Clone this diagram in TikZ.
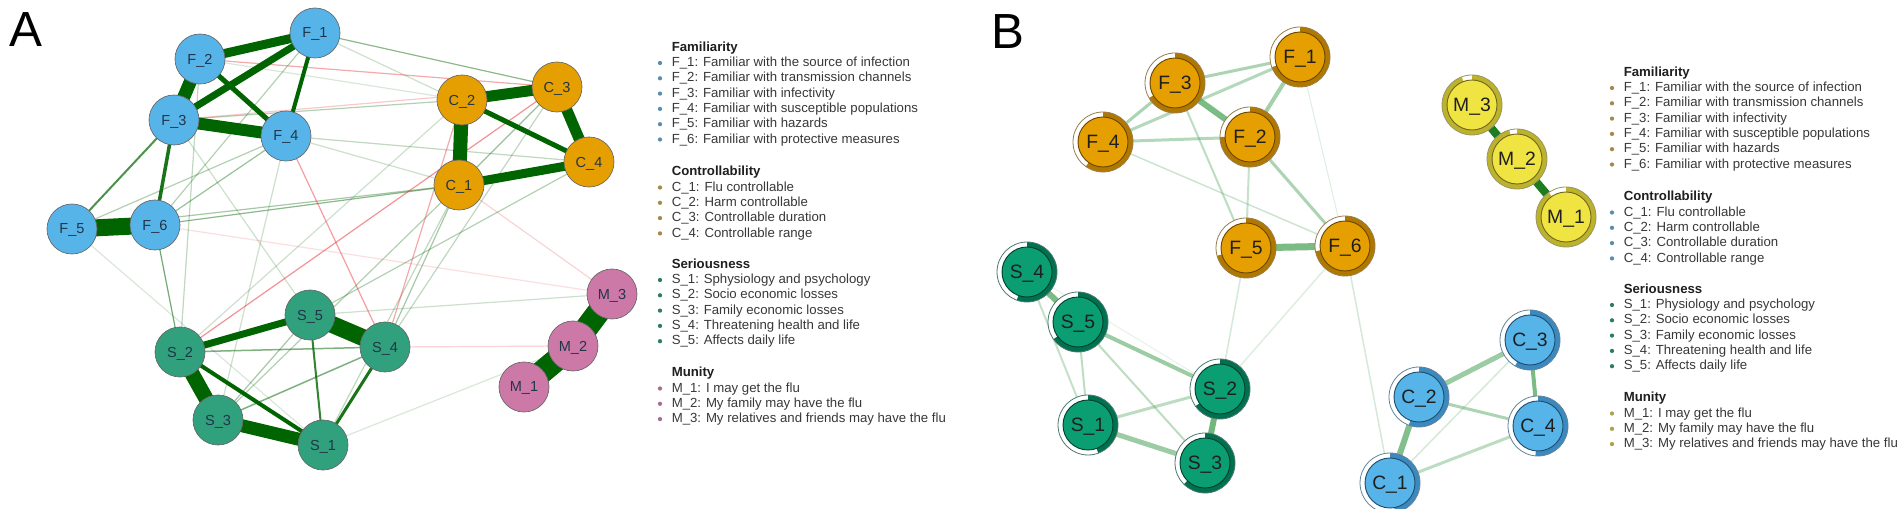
\documentclass[tikz,border=0pt]{standalone}
\usepackage{fontspec}
\setmainfont{Liberation Sans}
\pgfdeclarelayer{bgl}
\pgfdeclarelayer{edges}
\pgfsetlayers{bgl,edges,main}
\definecolor{aF}{HTML}{56B4E9}
\definecolor{aC}{HTML}{E69F00}
\definecolor{aS}{HTML}{31A07C}
\definecolor{aM}{HTML}{CC79A7}
\definecolor{aT}{HTML}{22354A}
\definecolor{eg}{HTML}{006400}
\definecolor{er}{HTML}{E8282E}
\definecolor{bF}{HTML}{E69F00}
\definecolor{bFr}{HTML}{B07800}
\definecolor{bFo}{HTML}{6B4700}
\definecolor{bS}{HTML}{0A9E72}
\definecolor{bSr}{HTML}{007050}
\definecolor{bSo}{HTML}{00402D}
\definecolor{bC}{HTML}{56B4E9}
\definecolor{bCr}{HTML}{3B89BE}
\definecolor{bCo}{HTML}{1F4E6E}
\definecolor{bM}{HTML}{F0E442}
\definecolor{bMr}{HTML}{BDB22C}
\definecolor{bMo}{HTML}{6E6820}
\definecolor{bE}{HTML}{5AAA66}
\definecolor{bEd}{HTML}{1E7D1E}
\definecolor{lbF}{HTML}{5A8DB0}
\definecolor{lbC}{HTML}{A8884A}
\definecolor{lbS}{HTML}{2E7C62}
\definecolor{lbMa}{HTML}{A5708F}
\definecolor{lbMb}{HTML}{A8A44C}
\newcommand{\bnd}[8]{%
  \node[bshape] (#1) at (#2,#3) {};
  \fill[white] (#1.center) circle[radius=22.5pt];
  \fill[#5] (#1.center) -- ++(90:22.5pt) arc[start angle=90, end angle=#7-360, radius=22.5pt] -- cycle;
  \draw[#6!70, line width=0.6pt] (#1.center) circle[radius=22.5pt];
  \filldraw[fill=#4, draw=#6, line width=0.7pt] (#1.center) circle[radius=18.75pt];
  \node[blabel] (#1l) at (#1.center) {#8};
}
\newcommand{\litem}[4]{%
  \fill[#3] (0,#2+1) circle[radius=1.6pt];
  \node[ltext] (#1) at (11.5,#2) {#4};
}
\newcommand{\lgd}[6]{%
  \node[ltext, lhead] (#1h1) at (11.5,0) {Familiarity};
  \litem{#1f1}{15}{#2}{F\_1: Familiar with the source of infection}
  \litem{#1f2}{30.3}{#2}{F\_2: Familiar with transmission channels}
  \litem{#1f3}{45.6}{#2}{F\_3: Familiar with infectivity}
  \litem{#1f4}{60.9}{#2}{F\_4: Familiar with susceptible populations}
  \litem{#1f5}{76.2}{#2}{F\_5: Familiar with hazards}
  \litem{#1f6}{91.5}{#2}{F\_6: Familiar with protective measures}
  \node[ltext, lhead] (#1h2) at (11.5,124) {Controllability};
  \litem{#1c1}{139.5}{#3}{C\_1: Flu controllable}
  \litem{#1c2}{154.8}{#3}{C\_2: Harm controllable}
  \litem{#1c3}{170.1}{#3}{C\_3: Controllable duration}
  \litem{#1c4}{185.4}{#3}{C\_4: Controllable range}
  \node[ltext, lhead] (#1h3) at (11.5,216.5) {Seriousness};
  \litem{#1s1}{232}{#4}{#6}
  \litem{#1s2}{247.3}{#4}{S\_2: Socio economic losses}
  \litem{#1s3}{262.6}{#4}{S\_3: Family economic losses}
  \litem{#1s4}{277.9}{#4}{S\_4: Threatening health and life}
  \litem{#1s5}{293.2}{#4}{S\_5: Affects daily life}
  \node[ltext, lhead] (#1h4) at (11.5,325) {Munity};
  \litem{#1m1}{340.5}{#5}{M\_1: I may get the flu}
  \litem{#1m2}{355.8}{#5}{M\_2: My family may have the flu}
  \litem{#1m3}{371.1}{#5}{M\_3: My relatives and friends may have the flu}
}
\begin{document}
\begin{tikzpicture}[x=0.75pt,y=-0.75pt,
  anode/.style={circle, minimum size=37.5pt, inner sep=0pt, draw=black!60, line width=0.5pt,
    font=\fontsize{10.9}{12}\selectfont, text=aT, text depth=0pt},
  bshape/.style={circle, minimum size=45pt, inner sep=0pt},
  blabel/.style={font=\fontsize{14.5}{16}\selectfont, text=black!88, inner sep=0pt, text depth=0pt},
  ltext/.style={anchor=west, inner sep=0pt, text height=7pt, text depth=0pt,
    font=\fontsize{9.9}{12}\selectfont, text=black!78},
  lhead/.style={font=\fontsize{9.9}{12}\selectfont\bfseries, text=black!88},
  plabel/.style={font=\fontsize{37}{40}\selectfont, inner sep=0pt, text depth=0pt}]
\begin{pgfonlayer}{bgl}
\fill[white] (0,0) rectangle (1902,509);
\end{pgfonlayer}
\useasboundingbox (0,0) rectangle (1902,509);

\node[plabel] (labA) at (25.5,30) {A};
\node[plabel] (labB) at (1008,32) {B};

% ---------- Panel A nodes
\node[anode, fill=aF] (AF1) at (315,33) {F\_1};
\node[anode, fill=aF] (AF2) at (200,59) {F\_2};
\node[anode, fill=aF] (AF3) at (174,120) {F\_3};
\node[anode, fill=aF] (AF4) at (286,136) {F\_4};
\node[anode, fill=aF] (AF5) at (72,229) {F\_5};
\node[anode, fill=aF] (AF6) at (155,225) {F\_6};
\node[anode, fill=aC] (AC1) at (459,185) {C\_1};
\node[anode, fill=aC] (AC2) at (462,100) {C\_2};
\node[anode, fill=aC] (AC3) at (557,87) {C\_3};
\node[anode, fill=aC] (AC4) at (589,162) {C\_4};
\node[anode, fill=aS] (AS1) at (323,445) {S\_1};
\node[anode, fill=aS] (AS2) at (180,352) {S\_2};
\node[anode, fill=aS] (AS3) at (218,420) {S\_3};
\node[anode, fill=aS] (AS4) at (385,347) {S\_4};
\node[anode, fill=aS] (AS5) at (310,315) {S\_5};
\node[anode, fill=aM] (AM1) at (524,387) {M\_1};
\node[anode, fill=aM] (AM2) at (573,346) {M\_2};
\node[anode, fill=aM] (AM3) at (612,294) {M\_3};

% ---------- Panel B nodes
\bnd{BF1}{1300}{57}{bF}{bFr}{bFo}{200}{F\_1}
\bnd{BF2}{1250}{137}{bF}{bFr}{bFo}{180}{F\_2}
\bnd{BF3}{1175}{83}{bF}{bFr}{bFo}{210}{F\_3}
\bnd{BF4}{1103}{142}{bF}{bFr}{bFo}{235}{F\_4}
\bnd{BF5}{1246}{248}{bF}{bFr}{bFo}{195}{F\_5}
\bnd{BF6}{1345}{246}{bF}{bFr}{bFo}{190}{F\_6}
\bnd{BM1}{1566}{217}{bM}{bMr}{bMo}{125}{M\_1}
\bnd{BM2}{1517}{159}{bM}{bMr}{bMo}{105}{M\_2}
\bnd{BM3}{1472}{105}{bM}{bMr}{bMo}{110}{M\_3}
\bnd{BS1}{1088}{425}{bS}{bSr}{bSo}{290}{S\_1}
\bnd{BS2}{1220}{389}{bS}{bSr}{bSo}{215}{S\_2}
\bnd{BS3}{1205}{463}{bS}{bSr}{bSo}{225}{S\_3}
\bnd{BS4}{1027}{272}{bS}{bSr}{bSo}{250}{S\_4}
\bnd{BS5}{1078}{322}{bS}{bSr}{bSo}{215}{S\_5}
\bnd{BC1}{1390}{483}{bC}{bCr}{bCo}{280}{C\_1}
\bnd{BC2}{1419}{397}{bC}{bCr}{bCo}{250}{C\_2}
\bnd{BC3}{1530}{340}{bC}{bCr}{bCo}{240}{C\_3}
\bnd{BC4}{1538}{426}{bC}{bCr}{bCo}{265}{C\_4}

% ---------- Edges
\begin{pgfonlayer}{edges}
\foreach \a/\b/\o in {AF1/AC3/0.45, AF3/AC2/0.3, AF4/AC4/0.25, AF6/AC1/0.45, AF5/AC1/0.35, AF4/AC1/0.2,
  AF6/AS2/0.55, AF2/AS2/0.25, AF3/AS5/0.2, AF4/AS3/0.2, AC1/AS4/0.35, AC1/AS3/0.3, AC1/AS1/0.25,
  AC4/AS5/0.3, AC3/AS4/0.25, AC2/AS2/0.2, AS5/AM3/0.2, AS1/AM2/0.15, AF5/AS1/0.15, AF1/AC4/0.2,
  AF2/AC2/0.15, AF4/AF6/0.4, AF4/AF5/0.3, AF1/AF6/0.3, AC1/AC3/0.4, AS3/AS5/0.35}
  \draw[eg, opacity=\o, line width=0.9pt] (\a.center) -- (\b.center);
\foreach \a/\b/\o in {AF2/AC3/0.4, AF3/AC3/0.25, AS2/AC3/0.5, AF4/AS4/0.45, AC2/AS4/0.4,
  AS4/AM2/0.2, AC1/AM3/0.2, AF6/AM3/0.15}
  \draw[er, opacity=\o, line width=0.9pt] (\a.center) -- (\b.center);
\foreach \a/\b/\w/\o in {AF1/AF2/9/1, AF1/AF3/7/1, AF1/AF4/4/1, AF2/AF3/13/1, AF2/AF4/5/1,
  AF3/AF4/12/1, AF3/AF6/3.5/0.9, AF3/AF5/2/0.7, AF5/AF6/17/1, AC1/AC2/14/1, AC2/AC3/11/1,
  AC2/AC4/5/1, AC1/AC4/9/1, AC3/AC4/11/1, AS4/AS5/17/1, AS2/AS5/7/1, AS2/AS3/15/1,
  AS3/AS1/13/1, AS2/AS1/4/1, AS5/AS1/2/0.8, AS4/AS1/3/0.9, AS2/AS4/1.5/0.5, AS3/AS4/1.5/0.5,
  AM1/AM2/23/1, AM2/AM3/23/1}
  \draw[eg, opacity=\o, line width=\w*0.75pt] (\a.center) -- (\b.center);
\foreach \a/\b/\w/\o in {BF3/BF2/6/0.8, BF3/BF1/3/0.5, BF4/BF3/3/0.5, BF4/BF1/3/0.45, BF4/BF2/3/0.45,
  BF2/BF1/4/0.55, BF3/BF5/2/0.4, BF2/BF5/2/0.35, BF2/BF6/3/0.5, BF4/BF6/1.5/0.3, BF1/BF6/1/0.2,
  BF5/BF6/7/0.8, BF5/BS2/1.5/0.25, BF6/BS2/1.5/0.2, BF6/BC1/1.5/0.25, BS4/BS5/6/0.8,
  BS5/BS2/4/0.6, BS5/BS1/2/0.4, BS4/BS1/2/0.35, BS5/BS3/2/0.4, BS4/BS2/1/0.15, BS1/BS2/3/0.4,
  BS1/BS3/5/0.6, BS2/BS3/6/0.85, BC2/BC3/5/0.6, BC3/BC4/4/0.8, BC2/BC4/3/0.5, BC1/BC2/6/0.75,
  BC1/BC4/3/0.4, BC1/BC3/1.5/0.25}
  \draw[bE, opacity=\o, line width=\w*0.75pt] (\a.center) -- (\b.center);
\draw[bEd, line width=6pt] (BM3.center) -- (BM2.center);
\draw[bEd, line width=6pt] (BM2.center) -- (BM1.center);
\end{pgfonlayer}

% ---------- Legends
\begin{scope}[shift={(660,47)}]
\lgd{la}{lbF}{lbC}{lbS}{lbMa}{S\_1: Sphysiology and psychology}
\end{scope}
\begin{scope}[shift={(1612,72)}]
\lgd{lb}{lbC}{lbF}{lbS}{lbMb}{S\_1: Physiology and psychology}
\end{scope}
\end{tikzpicture}
\end{document}
